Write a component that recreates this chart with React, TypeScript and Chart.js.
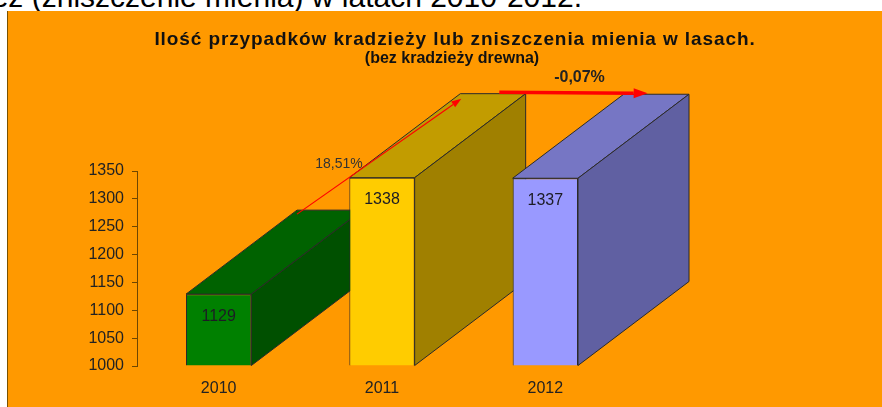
import React, { useEffect, useRef } from "react";
import { Chart, registerables } from "chart.js";

Chart.register(...registerables);

// ---- data ----
const categories = ["2010", "2011", "2012"];
const values = [1129, 1338, 1337];
const yTicks = [1000, 1050, 1100, 1150, 1200, 1250, 1300, 1350];
const changeLabels = ["18,51%", "-0,07%"];
const titleText = "Ilość przypadków kradzieży lub zniszczenia mienia w lasach.";
const subtitleText = "(bez kradzieży drewna)";
const headerText = "ez (zniszczenie mienia) w latach 2010-2012.";

// ---- styles ----
const frontColors = ["#008000", "#FFCC00", "#9999FF"];
const topColors = ["#006200", "#C29C00", "#7676C4"];
const sideColors = ["#005000", "#A08000", "#6060A2"];
const ORANGE = "#FF9900";
const AXIS = "#6E4600";
const FONT = "'Liberation Sans', Arial, Helvetica, sans-serif";
const DX = 111;
const DY = -84;

function arrow(ctx: CanvasRenderingContext2D, x1: number, y1: number, x2: number, y2: number, lw: number, hl: number, hw: number) {
  const a = Math.atan2(y2 - y1, x2 - x1);
  const bx = x2 - hl * Math.cos(a);
  const by = y2 - hl * Math.sin(a);
  ctx.save();
  ctx.strokeStyle = "#FF0000";
  ctx.fillStyle = "#FF0000";
  ctx.lineWidth = lw;
  ctx.beginPath();
  ctx.moveTo(x1, y1);
  ctx.lineTo(bx, by);
  ctx.stroke();
  ctx.beginPath();
  ctx.moveTo(x2, y2);
  ctx.lineTo(bx + (hw / 2) * Math.sin(a), by - (hw / 2) * Math.cos(a));
  ctx.lineTo(bx - (hw / 2) * Math.sin(a), by + (hw / 2) * Math.cos(a));
  ctx.closePath();
  ctx.fill();
  ctx.restore();
}

const bar3d = {
  id: "bar3d",
  beforeDraw(chart: any) {
    const ctx = chart.ctx;
    ctx.save();
    ctx.fillStyle = ORANGE;
    ctx.fillRect(0, 0, chart.width, chart.height);
    ctx.restore();
  },
  beforeDatasetsDraw(chart: any) {
    const ctx = chart.ctx as CanvasRenderingContext2D;
    const meta = chart.getDatasetMeta(0);
    const bottom = chart.chartArea.bottom;
    ctx.save();
    ctx.strokeStyle = "#2a2a2a";
    ctx.lineWidth = 1;
    ctx.lineJoin = "round";
    meta.data.forEach((bar: any, i: number) => {
      const { x, y, base, width } = bar.getProps(["x", "y", "base", "width"], true);
      const b = Math.min(base, bottom);
      const l = x - width / 2;
      const r = x + width / 2;
      // top face
      ctx.beginPath();
      ctx.moveTo(l, y);
      ctx.lineTo(l + DX, y + DY);
      ctx.lineTo(r + DX, y + DY);
      ctx.lineTo(r, y);
      ctx.closePath();
      ctx.fillStyle = topColors[i];
      ctx.fill();
      ctx.stroke();
      // side face
      ctx.beginPath();
      ctx.moveTo(r, y);
      ctx.lineTo(r + DX, y + DY);
      ctx.lineTo(r + DX, b + DY);
      ctx.lineTo(r, b);
      ctx.closePath();
      ctx.fillStyle = sideColors[i];
      ctx.fill();
      ctx.stroke();
    });
    ctx.restore();
  },
  afterDatasetsDraw(chart: any) {
    const ctx = chart.ctx as CanvasRenderingContext2D;
    const meta = chart.getDatasetMeta(0);
    const bars = meta.data.map((b: any) => b.getProps(["x", "y", "base", "width"], true));
    ctx.save();
    // value labels
    ctx.font = `16px ${FONT}`;
    ctx.fillStyle = "#1c1c24";
    ctx.textAlign = "center";
    ctx.textBaseline = "middle";
    bars.forEach((b: any, i: number) => {
      ctx.fillText(String(values[i]), b.x, b.y + 22);
    });
    // arrows
    const backTL = (b: any) => ({ x: b.x - b.width / 2 + DX, y: b.y + DY });
    const p0 = backTL(bars[0]);
    const p1 = backTL(bars[1]);
    const p2 = backTL(bars[2]);
    const s1 = { x: p0.x, y: p0.y + 4 };
    const e1 = { x: p1.x + 1, y: p1.y + 5 };
    arrow(ctx, s1.x, s1.y, e1.x, e1.y, 1.2, 10, 7);
    const t = 0.4;
    const lp = { x: s1.x + t * (e1.x - s1.x), y: s1.y + t * (e1.y - s1.y) };
    ctx.font = `14px ${FONT}`;
    ctx.fillStyle = "#333";
    ctx.textAlign = "right";
    ctx.textBaseline = "alphabetic";
    ctx.fillText(changeLabels[0], lp.x, lp.y + 0.5);

    const s2 = { x: p1.x + 39, y: p1.y - 1.5 };
    const e2 = { x: p2.x + 24, y: p2.y - 1 };
    arrow(ctx, s2.x, s2.y, e2.x, e2.y, 3.5, 14, 10);
    ctx.font = `bold 16px ${FONT}`;
    ctx.fillStyle = "#222";
    ctx.textAlign = "center";
    ctx.fillText(changeLabels[1], (s2.x + e2.x) / 2 + 6, s2.y - 10.5);
    ctx.restore();
  },
  afterDraw(chart: any) {
    const ctx = chart.ctx as any;
    ctx.save();
    ctx.fillStyle = "#111";
    ctx.textAlign = "center";
    ctx.textBaseline = "alphabetic";
    ctx.font = `bold 19px ${FONT}`;
    ctx.letterSpacing = "0.9px";
    ctx.fillText(titleText, 447, 34);
    ctx.letterSpacing = "0px";
    ctx.font = `bold 16px ${FONT}`;
    ctx.fillText(subtitleText, 444, 52);
    ctx.restore();
  },
};

export default function App() {
  const ref = useRef<HTMLCanvasElement | null>(null);

  useEffect(() => {
    if (!ref.current) return;
    const chart = new Chart(ref.current, {
      type: "bar",
      data: {
        labels: categories,
        datasets: [
          {
            data: values,
            base: yTicks[0],
            backgroundColor: frontColors,
            borderColor: "#2a2a2a",
            borderWidth: 1,
            barPercentage: 0.4,
            categoryPercentage: 1,
          },
        ],
      },
      options: {
        responsive: false,
        animation: false,
        events: [],
        layout: { padding: { top: 160, right: 255, bottom: 0, left: 0 } },
        plugins: {
          legend: { display: false },
          tooltip: { enabled: false },
          title: { display: false },
        },
        scales: {
          x: {
            offset: true,
            grid: { display: false },
            border: { display: false },
            ticks: { color: "#222", font: { size: 16, family: FONT }, padding: 5 },
            afterFit: (s: any) => {
              s.height = 41;
            },
          },
          y: {
            min: yTicks[0],
            max: yTicks[yTicks.length - 1],
            afterBuildTicks: (s: any) => {
              s.ticks = yTicks.map((v) => ({ value: v }));
            },
            ticks: {
              color: "#222",
              font: { size: 16, family: FONT },
              padding: 8,
              callback: (v: any) => String(v),
            },
            grid: { display: true, drawOnChartArea: false, drawTicks: true, tickLength: 5, color: AXIS },
            border: { display: true, color: AXIS, width: 1 },
            afterFit: (s: any) => {
              s.width = 129;
            },
          },
        },
      },
      plugins: [bar3d],
    } as any);
    return () => chart.destroy();
  }, []);

  return (
    <div
      style={{
        position: "fixed",
        left: 0,
        top: 0,
        width: 882,
        height: 407,
        background: "#fff",
        overflow: "hidden",
      }}
    >
      <div
        style={{
          position: "absolute",
          right: 300,
          top: -18,
          whiteSpace: "nowrap",
          fontFamily: FONT,
          fontSize: 30,
          lineHeight: "30px",
          color: "#000",
        }}
      >
        {headerText}
      </div>
      <div
        style={{
          position: "absolute",
          left: 7,
          top: 11,
          borderLeft: "1px solid #7a5200",
          width: 874,
          height: 396,
        }}
      >
        <canvas ref={ref} width={874} height={396} style={{ display: "block", width: 874, height: 396 }} />
      </div>
    </div>
  );
}
